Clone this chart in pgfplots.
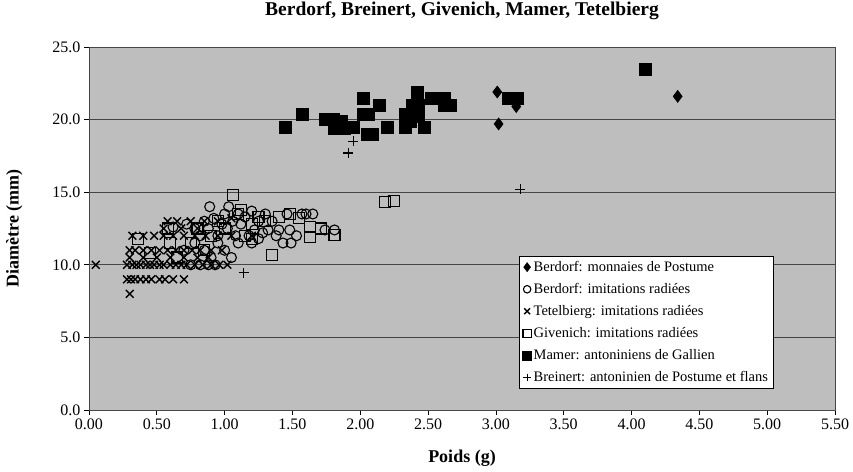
\documentclass[border=0pt]{standalone}
\usepackage{fontspec}
\setmainfont{Liberation Serif}
\usepackage{pgfplots}
\pgfplotsset{compat=1.18}
\definecolor{bg}{RGB}{190,190,190}
\definecolor{gridc}{RGB}{70,70,70}
\begin{document}
\begin{tikzpicture}
\begin{axis}[
  name=ax,
  scale only axis, width=746pt, height=363pt,
  xmin=0, xmax=5.5, ymin=0, ymax=25,
  xtick={0,0.5,1,1.5,2,2.5,3,3.5,4,4.5,5,5.5},
  ytick={0,5,10,15,20,25},
  xticklabel style={/pgf/number format/.cd, fixed, fixed zerofill, precision=2, assume math mode=true},
  yticklabel style={/pgf/number format/.cd, fixed, fixed zerofill, precision=1, assume math mode=true},
  ticklabel style={font=\fontsize{16}{18}\selectfont},
  tick align=outside, xtick pos=bottom, ytick pos=left,
  major tick length=5pt,
  tick style={black, line width=0.8pt},
  ymajorgrids, grid style={gridc, line width=0.9pt},
  axis background/.style={fill=bg},
  axis line style={gridc, line width=0.9pt},
  title={\textbf{Berdorf, Breinert, Givenich, Mamer, Tetelbierg}},
  title style={at={(axis description cs:0.5,1.083)}, anchor=center, font=\fontsize{19.5}{21}\selectfont},
  xlabel={\textbf{Poids (g)}},
  ylabel={\textbf{Diamètre (mm)}},
  every axis x label/.style={at={(axis description cs:0.5,-0.132)}, anchor=center, font=\fontsize{18}{20}\selectfont},
  every axis y label/.style={at={(axis description cs:-0.100,0.5)}, anchor=center, rotate=90, font=\fontsize{18}{20}\selectfont},
  legend style={at={(axis description cs:0.577,0.424)}, anchor=north west, draw=black, fill=white,
    font=\fontsize{14.5}{17}\selectfont, row sep=6.4pt, inner sep=3pt},
  legend image post style={scale=0.75},
  legend cell align=left,
]
% Berdorf: monnaies de Postume
\addplot[only marks, mark=diamond*, mark size=6pt, mark options={fill=black, draw=black, line width=0.6pt}] coordinates {
(3.01,21.9) (3.02,19.7) (3.15,20.9) (4.34,21.6)
};
\addlegendentry{Berdorf: monnaies de Postume}
% Berdorf: imitations radiees
\addplot[only marks, mark=o, mark size=5pt, mark options={draw=black, line width=1.1pt}] coordinates {
(0.62,12.6) (0.72,12.8) (0.78,12.5) (0.82,12.0) (0.85,13.0) (0.88,12.5) (0.89,14.0) (0.92,13.2)
(0.95,12.0) (0.98,12.8) (1.00,13.5) (1.02,12.5) (1.03,14.0) (1.06,13.0) (1.08,12.0) (1.10,13.5)
(1.12,12.8) (1.15,13.3) (1.18,12.0) (1.20,13.7) (1.22,12.4) (1.25,13.0) (1.28,12.2) (1.30,13.5)
(1.32,12.4) (1.35,13.0) (1.38,12.0) (1.40,12.4) (1.43,11.5) (1.46,13.5) (1.48,12.4) (1.49,11.5)
(1.53,12.0) (1.57,13.5) (1.60,13.5) (1.65,13.5) (1.74,12.4) (1.81,12.4) (0.70,11.0) (0.78,11.5)
(0.85,11.0) (0.95,11.5) (0.90,10.5) (1.00,11.0) (1.05,10.5) (1.10,11.5) (1.20,11.5) (1.25,11.8)
(0.75,10.0) (0.82,10.0) (0.88,10.0) (0.93,10.0)
};
\addlegendentry{Berdorf: imitations radiées}
% Tetelbierg: imitations radiees
\addplot[only marks, mark=x, mark size=5.5pt, mark options={draw=black, line width=1.4pt}] coordinates {
(0.05,10) (0.30,8) (0.28,9) (0.31,9) (0.34,9) (0.38,9) (0.42,9) (0.46,9) (0.52,9) (0.56,9) (0.62,9) (0.70,9)
(0.28,10) (0.32,10) (0.35,10) (0.38,10) (0.42,10) (0.45,10) (0.48,10) (0.52,10) (0.55,10) (0.60,10)
(0.64,10) (0.68,10) (0.72,10) (0.78,10) (0.84,10) (0.90,10) (0.96,10) (1.02,10)
(0.30,10.5) (0.40,10.5) (0.50,10.5) (0.60,10.5) (0.70,10.5) (0.80,10.5) (0.88,10.5)
(0.30,11) (0.34,11) (0.40,11) (0.46,11) (0.52,11) (0.58,11) (0.64,11) (0.70,11) (0.76,11) (0.82,11) (0.90,11) (0.98,11)
(0.32,12) (0.40,12) (0.48,12) (0.55,12) (0.62,12) (0.70,12) (0.78,12) (0.86,12) (0.95,12) (1.05,12) (1.20,12)
(0.55,12.5) (0.68,12.5) (0.80,12.5)
(0.58,13) (0.65,13) (0.75,13) (0.85,13) (0.95,13) (1.05,13.2)
};
\addlegendentry{Tetelbierg: imitations radiées}
% Givenich: imitations radiees
\addplot[only marks, mark=square, mark size=5.5pt, mark options={draw=black, line width=1.1pt}] coordinates {
(0.36,11.8) (0.58,12.5) (0.60,11.5) (0.65,10.5) (0.75,11.5) (0.80,12.5) (0.90,12.0) (0.95,13.0)
(1.00,12.5) (1.06,14.8) (1.10,13.5) (1.12,13.8) (1.15,12.0) (1.20,12.8) (1.25,13.3) (1.30,13.0)
(1.35,10.7) (1.40,13.3) (1.48,13.5) (1.55,13.2) (1.63,12.6) (1.63,11.9) (1.71,12.5) (1.81,12.05)
(1.20,11.8) (2.18,14.3) (2.25,14.4) (0.45,10.8) (0.85,11.0)
};
\addlegendentry{Givenich: imitations radiées}
% Mamer: antoniniens de Gallien
\addplot[only marks, mark=square*, mark size=6pt, mark options={fill=black, draw=black}] coordinates {
(1.45,19.5) (1.57,20.4) (1.74,20.0) (1.80,20.0) (1.86,19.9) (1.81,19.4) (1.88,19.4) (1.95,19.5)
(2.02,21.5) (2.14,21.0) (2.02,20.4) (2.06,20.4) (2.05,19.0) (2.09,19.0) (2.20,19.5) (2.42,21.9)
(2.38,21.0) (2.43,21.0) (2.52,21.5) (2.62,21.5) (2.62,21.0) (2.66,21.0) (2.33,20.4) (2.39,20.4)
(2.37,19.9) (2.33,19.5) (2.47,19.5) (2.43,20.2) (3.09,21.45) (3.16,21.45) (4.10,23.5)
};
\addlegendentry{Mamer: antoniniens de Gallien}
% Breinert: antoninien de Postume et flans
\addplot[only marks, mark=+, mark size=5pt, mark options={draw=black, line width=1.1pt}] coordinates {
(1.14,9.45) (1.91,17.7) (1.95,18.5) (3.18,15.2)
};
\addlegendentry{Breinert: antoninien de Postume et flans}
\end{axis}
\pgfresetboundingbox
\path[use as bounding box] ([shift={(-89pt,-61pt)}]ax.south west) rectangle ([shift={(18pt,47pt)}]ax.north east);
\end{tikzpicture}
\end{document}
